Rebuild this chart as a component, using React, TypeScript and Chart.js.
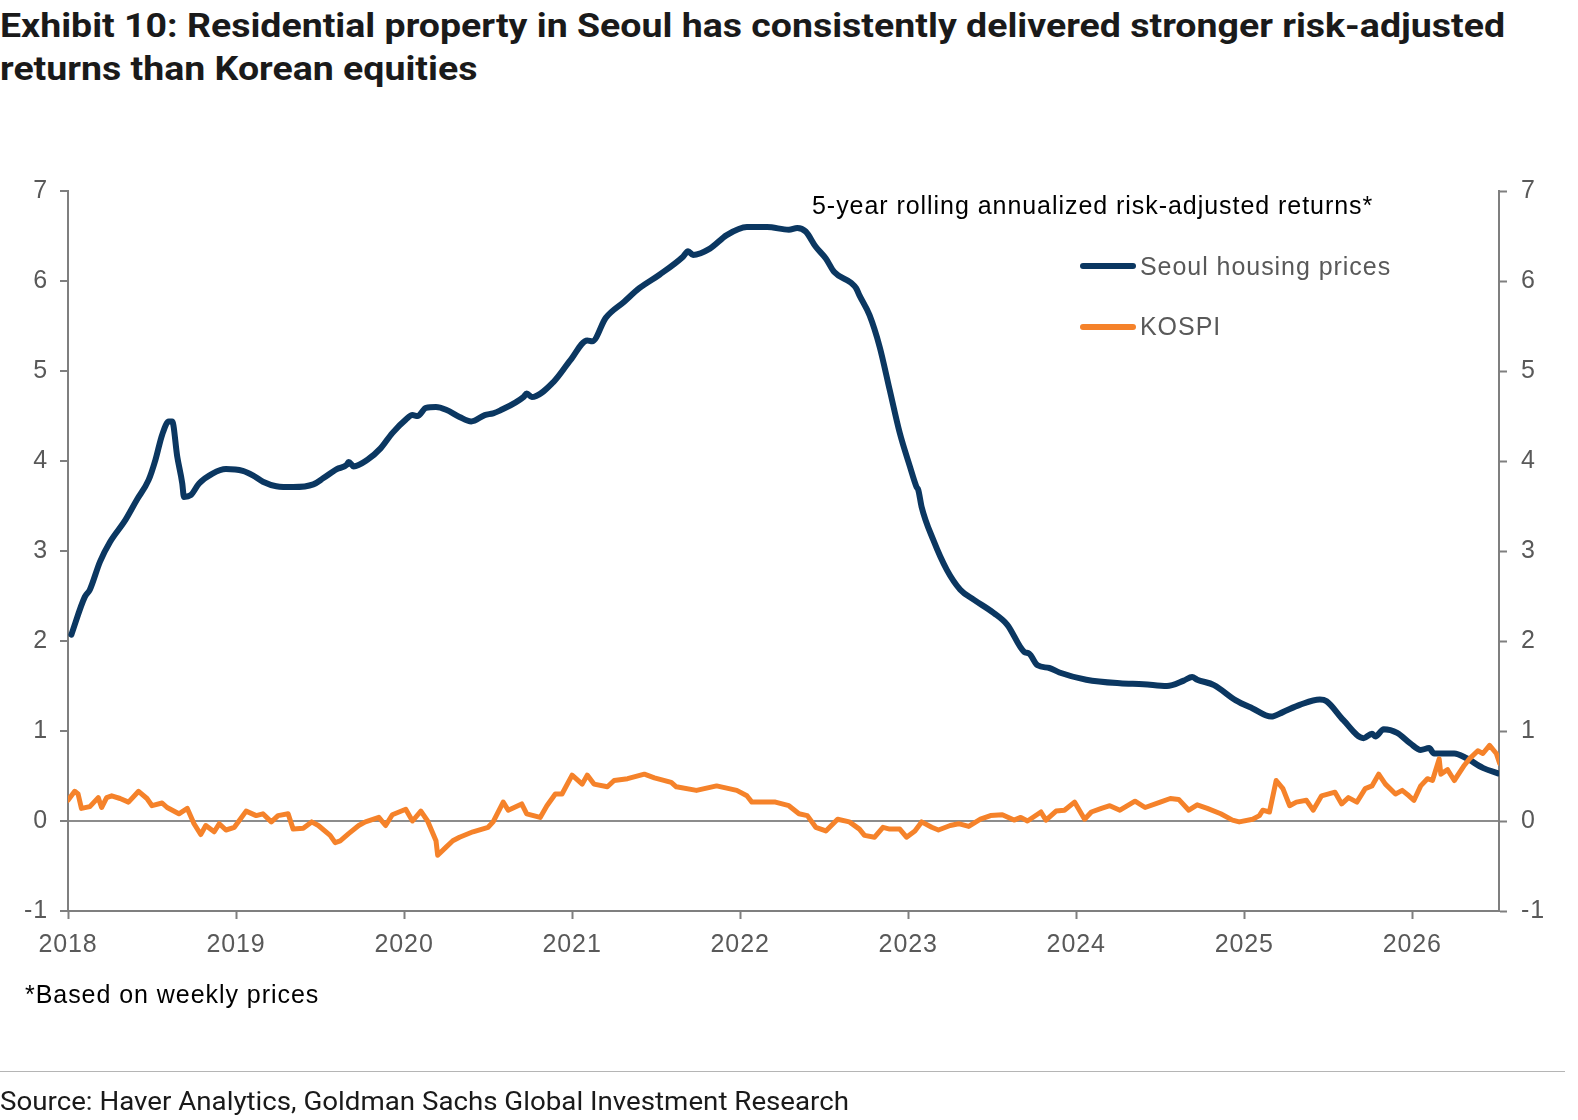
import React, { useEffect, useRef } from "react";
import { Chart, registerables } from "chart.js";

Chart.register(...registerables);

const xTickYears = [2018, 2019, 2020, 2021, 2022, 2023, 2024, 2025, 2026];
const yTickValues = [-1, 0, 1, 2, 3, 4, 5, 6, 7];

const seoulYears = [
  2018.02, 2018.1, 2018.13, 2018.19, 2018.25, 2018.34, 2018.41, 2018.48, 2018.52, 2018.56,
  2018.6, 2018.62, 2018.65, 2018.68, 2018.69, 2018.73, 2018.78, 2018.86, 2018.94, 2019.04,
  2019.1, 2019.16, 2019.24, 2019.34, 2019.46, 2019.52, 2019.6, 2019.66, 2019.67, 2019.7,
  2019.78, 2019.86, 2019.93, 2020.01, 2020.05, 2020.08, 2020.13, 2020.19, 2020.25, 2020.33,
  2020.4, 2020.48, 2020.53, 2020.57, 2020.71, 2020.73, 2020.76, 2020.89, 2020.99, 2021.09,
  2021.12, 2021.2, 2021.31, 2021.4, 2021.52, 2021.66, 2021.69, 2021.72, 2021.82, 2021.92,
  2022.04, 2022.16, 2022.29, 2022.34, 2022.39, 2022.45, 2022.51, 2022.56, 2022.66, 2022.69,
  2022.71, 2022.77, 2022.83, 2022.89, 2022.95, 2023.01, 2023.05, 2023.06, 2023.08, 2023.15,
  2023.23, 2023.31, 2023.39, 2023.51, 2023.59, 2023.69, 2023.72, 2023.77, 2023.84, 2023.9,
  2024.06, 2024.26, 2024.4, 2024.54, 2024.64, 2024.69, 2024.72, 2024.82, 2024.95, 2025.05,
  2025.16, 2025.23, 2025.33, 2025.45, 2025.49, 2025.59, 2025.71, 2025.76, 2025.78, 2025.83,
  2025.91, 2025.99, 2026.05, 2026.1, 2026.13, 2026.25, 2026.32, 2026.42, 2026.51,
];
const seoulValues = [
  2.07, 2.49, 2.57, 2.88, 3.1, 3.34, 3.57, 3.79, 4.01, 4.29,
  4.44, 4.44, 4.05, 3.75, 3.6, 3.62, 3.75, 3.86, 3.91, 3.89,
  3.84, 3.77, 3.72, 3.71, 3.74, 3.81, 3.91, 3.96, 3.99, 3.94,
  4.01, 4.14, 4.31, 4.46, 4.51, 4.5, 4.59, 4.6, 4.57, 4.49,
  4.44, 4.51, 4.53, 4.56, 4.71, 4.75, 4.71, 4.88, 5.12, 5.34,
  5.33, 5.59, 5.77, 5.92, 6.07, 6.27, 6.33, 6.29, 6.36, 6.51,
  6.6, 6.6, 6.57, 6.59, 6.55, 6.38, 6.25, 6.1, 5.98, 5.92,
  5.84, 5.62, 5.27, 4.79, 4.31, 3.94, 3.71, 3.68, 3.49, 3.12,
  2.79, 2.57, 2.46, 2.31, 2.18, 1.88, 1.86, 1.73, 1.7, 1.65,
  1.57, 1.53, 1.52, 1.5, 1.56, 1.6, 1.57, 1.51, 1.34, 1.25,
  1.16, 1.21, 1.29, 1.35, 1.33, 1.12, 0.92, 0.97, 0.94, 1.02,
  0.98, 0.86, 0.79, 0.81, 0.75, 0.75, 0.7, 0.59, 0.53,
];

const kospiYears = [
  2018.0, 2018.04, 2018.06, 2018.08, 2018.13, 2018.18, 2018.2, 2018.23, 2018.26, 2018.31,
  2018.36, 2018.42, 2018.47, 2018.5, 2018.56, 2018.59, 2018.66, 2018.71, 2018.75, 2018.79,
  2018.82, 2018.87, 2018.9, 2018.94, 2018.99, 2019.06, 2019.12, 2019.16, 2019.21, 2019.25,
  2019.31, 2019.34, 2019.4, 2019.45, 2019.49, 2019.56, 2019.59, 2019.62, 2019.67, 2019.73,
  2019.77, 2019.85, 2019.89, 2019.93, 2020.01, 2020.05, 2020.1, 2020.14, 2020.19, 2020.2,
  2020.25, 2020.29, 2020.33, 2020.41, 2020.5, 2020.53, 2020.59, 2020.62, 2020.7, 2020.73,
  2020.81, 2020.85, 2020.9, 2020.94, 2021.0, 2021.06, 2021.09, 2021.13, 2021.21, 2021.25,
  2021.33, 2021.43, 2021.49, 2021.59, 2021.62, 2021.74, 2021.86, 2021.98, 2022.04, 2022.07,
  2022.14, 2022.21, 2022.29, 2022.35, 2022.4, 2022.45, 2022.51, 2022.58, 2022.65, 2022.71,
  2022.74, 2022.8, 2022.85, 2022.89, 2022.95, 2022.99, 2023.04, 2023.08, 2023.14, 2023.18,
  2023.25, 2023.3, 2023.36, 2023.43, 2023.49, 2023.56, 2023.63, 2023.67, 2023.71, 2023.79,
  2023.82, 2023.88, 2023.93, 2023.99, 2024.05, 2024.09, 2024.15, 2024.2, 2024.26, 2024.35,
  2024.41, 2024.5, 2024.56, 2024.61, 2024.67, 2024.72, 2024.78, 2024.86, 2024.93, 2024.97,
  2025.05, 2025.09, 2025.11, 2025.15, 2025.19, 2025.23, 2025.27, 2025.31, 2025.37, 2025.41,
  2025.46, 2025.54, 2025.58, 2025.62, 2025.67, 2025.72, 2025.76, 2025.8, 2025.84, 2025.9,
  2025.94, 2025.98, 2026.01, 2026.05, 2026.09, 2026.12, 2026.16, 2026.17, 2026.21, 2026.25,
  2026.31, 2026.34, 2026.39, 2026.42, 2026.46, 2026.5, 2026.52,
];
const kospiValues = [
  0.23, 0.33, 0.3, 0.14, 0.16, 0.26, 0.15, 0.26, 0.28, 0.25,
  0.21, 0.33, 0.25, 0.17, 0.2, 0.15, 0.08, 0.14, -0.03, -0.15,
  -0.05, -0.12, -0.03, -0.1, -0.07, 0.11, 0.06, 0.08, -0.01, 0.06,
  0.08, -0.09, -0.08, -0.01, -0.05, -0.16, -0.24, -0.22, -0.14, -0.05,
  -0.01, 0.04, -0.05, 0.07, 0.13, 0.0, 0.11, 0.0, -0.22, -0.38,
  -0.29, -0.22, -0.18, -0.12, -0.07, -0.01, 0.21, 0.12, 0.19, 0.08,
  0.04, 0.17, 0.3, 0.3, 0.51, 0.41, 0.51, 0.41, 0.38, 0.45,
  0.47, 0.52, 0.48, 0.43, 0.38, 0.34, 0.39, 0.34, 0.28, 0.21,
  0.21, 0.21, 0.17, 0.08, 0.06, -0.07, -0.11, 0.02, -0.01, -0.09,
  -0.16, -0.18, -0.07, -0.09, -0.09, -0.18, -0.11, -0.01, -0.07, -0.1,
  -0.05, -0.03, -0.06, 0.02, 0.06, 0.07, 0.01, 0.04, 0.0, 0.1,
  0.01, 0.11, 0.12, 0.21, 0.02, 0.1, 0.14, 0.17, 0.12, 0.22,
  0.15, 0.21, 0.25, 0.24, 0.12, 0.18, 0.14, 0.08, 0.01, -0.01,
  0.02, 0.06, 0.12, 0.1, 0.45, 0.36, 0.17, 0.21, 0.23, 0.12,
  0.28, 0.32, 0.19, 0.26, 0.21, 0.36, 0.39, 0.52, 0.41, 0.3,
  0.34, 0.28, 0.23, 0.39, 0.47, 0.45, 0.69, 0.52, 0.57, 0.45,
  0.62, 0.69, 0.78, 0.75, 0.84, 0.75, 0.64,
];

const SEOUL_COLOR = "#0b3761";
const KOSPI_COLOR = "#f5822a";
const AXIS_COLOR = "#7f7f7f";
const TICK_TEXT = "#595959";
const ARIAL = "'Liberation Sans', Arial, Helvetica, sans-serif";
const TITLE_FONT = "Roboto, 'Noto Sans', 'Open Sans', sans-serif";

const spacingPlugin = {
  id: "letterSpacing",
  beforeUpdate(chart: any) {
    chart.ctx.letterSpacing = "0.9px";
  },
  beforeDraw(chart: any) {
    chart.ctx.letterSpacing = "0.9px";
  },
};

export default function App() {
  const canvasRef = useRef<HTMLCanvasElement | null>(null);
  const t1Ref = useRef<HTMLDivElement | null>(null);
  const t2Ref = useRef<HTMLDivElement | null>(null);
  const srcRef = useRef<HTMLDivElement | null>(null);

  useEffect(() => {
    const fitText = () => {
      const t1 = t1Ref.current;
      const t2 = t2Ref.current;
      const src = srcRef.current;
      if (t1 && t2) {
        t1.style.transform = "none";
        t2.style.transform = "none";
        const w = t1.getBoundingClientRect().width;
        const s = 1505 / w;
        t1.style.transform = `scaleX(${s})`;
        t2.style.transform = `scaleX(${s})`;
      }
      if (src) {
        src.style.transform = "none";
        const w = src.getBoundingClientRect().width;
        src.style.transform = `scaleX(${849 / w})`;
      }
    };
    fitText();
    if ((document as any).fonts && (document as any).fonts.ready) {
      (document as any).fonts.ready.then(fitText);
    }

    const canvas = canvasRef.current;
    if (!canvas) return;

    const tickFont = { family: ARIAL, size: 25 };

    const chart = new Chart(canvas, {
      type: "line",
      data: {
        datasets: [
          {
            label: "KOSPI",
            data: kospiYears.map((x, i) => ({ x, y: kospiValues[i] })),
            borderColor: KOSPI_COLOR,
            backgroundColor: KOSPI_COLOR,
            borderWidth: 5,
            pointRadius: 0,
            tension: 0,
            borderJoinStyle: "round",
            borderCapStyle: "round",
            xAxisID: "x",
            yAxisID: "y",
          },
          {
            label: "Seoul housing prices",
            data: seoulYears.map((x, i) => ({ x, y: seoulValues[i] })),
            borderColor: SEOUL_COLOR,
            backgroundColor: SEOUL_COLOR,
            borderWidth: 6,
            pointRadius: 0,
            cubicInterpolationMode: "monotone",
            borderJoinStyle: "round",
            borderCapStyle: "round",
            xAxisID: "x",
            yAxisID: "y",
          },
        ],
      },
      options: {
        responsive: false,
        devicePixelRatio: 1,
        animation: false,
        events: [],
        layout: { padding: { top: 191, bottom: 149, left: 0, right: 0 } },
        plugins: {
          legend: { display: false },
          tooltip: { enabled: false },
        },
        scales: {
          x: {
            type: "linear",
            position: "bottom",
            min: 2018,
            max: 2026.516,
            afterBuildTicks: (scale: any) => {
              scale.ticks = xTickYears.map((v) => ({ value: v }));
            },
            afterFit: (scale: any) => {
              scale.height = 60;
            },
            ticks: {
              font: tickFont,
              color: TICK_TEXT,
              padding: 11,
              maxRotation: 0,
              autoSkip: false,
              callback: (v: any) => String(v),
            },
            grid: {
              display: true,
              drawOnChartArea: false,
              drawTicks: true,
              tickLength: 8,
              tickColor: AXIS_COLOR,
              tickWidth: 2,
            },
            border: { display: true, color: AXIS_COLOR, width: 2 },
          },
          y: {
            type: "linear",
            position: "left",
            min: -1,
            max: 7,
            afterBuildTicks: (scale: any) => {
              scale.ticks = yTickValues.map((v) => ({ value: v }));
            },
            afterFit: (scale: any) => {
              scale.width = 68;
            },
            ticks: {
              font: tickFont,
              color: TICK_TEXT,
              padding: 12,
              callback: (v: any) => String(v),
            },
            grid: {
              display: true,
              drawOnChartArea: true,
              drawTicks: true,
              tickLength: 8,
              lineWidth: 2,
              color: (ctx: any) =>
                ctx.tick && ctx.tick.value === 0 ? "#8c8c8c" : "rgba(0,0,0,0)",
              tickColor: AXIS_COLOR,
              tickWidth: 2,
            },
            border: { display: true, color: AXIS_COLOR, width: 2 },
          },
          y2: {
            type: "linear",
            position: "right",
            min: -1,
            max: 7,
            afterBuildTicks: (scale: any) => {
              scale.ticks = yTickValues.map((v) => ({ value: v }));
            },
            afterFit: (scale: any) => {
              scale.width = 79;
            },
            ticks: {
              font: tickFont,
              color: TICK_TEXT,
              padding: 14,
              callback: (v: any) => String(v),
            },
            grid: {
              display: true,
              drawOnChartArea: false,
              drawTicks: true,
              tickLength: 8,
              tickColor: AXIS_COLOR,
              tickWidth: 2,
            },
            border: { display: true, color: AXIS_COLOR, width: 2 },
          },
        },
      } as any,
      plugins: [spacingPlugin as any],
    });

    return () => {
      chart.destroy();
    };
  }, []);

  const arialText: React.CSSProperties = {
    position: "absolute",
    fontFamily: ARIAL,
    fontSize: 25,
    lineHeight: "28px",
    letterSpacing: "0.95px",
    whiteSpace: "nowrap",
    margin: 0,
  };

  return (
    <div
      style={{
        position: "absolute",
        left: 0,
        top: 0,
        width: 1578,
        height: 1120,
        overflow: "hidden",
        background: "#ffffff",
      }}
    >
      <div
        ref={t1Ref}
        style={{
          position: "absolute",
          left: 0,
          top: 5,
          fontFamily: TITLE_FONT,
          fontWeight: 700,
          fontSize: 34,
          lineHeight: "41px",
          color: "#1a1a1a",
          whiteSpace: "nowrap",
          transformOrigin: "0 0",
        }}
      >
        Exhibit 10: Residential property in Seoul has consistently delivered stronger risk-adjusted
      </div>
      <div
        ref={t2Ref}
        style={{
          position: "absolute",
          left: 0,
          top: 48,
          fontFamily: TITLE_FONT,
          fontWeight: 700,
          fontSize: 34,
          lineHeight: "41px",
          color: "#1a1a1a",
          whiteSpace: "nowrap",
          transformOrigin: "0 0",
        }}
      >
        returns than Korean equities
      </div>

      <canvas
        ref={canvasRef}
        width={1578}
        height={1120}
        style={{ position: "absolute", left: 0, top: 0, width: 1578, height: 1120, display: "block" }}
      />

      <div style={{ ...arialText, left: 812, top: 191, color: "#000000" }}>
        5-year rolling annualized risk-adjusted returns*
      </div>

      <div
        style={{
          position: "absolute",
          left: 1080,
          top: 263,
          width: 56,
          height: 6,
          borderRadius: 3,
          background: SEOUL_COLOR,
        }}
      />
      <div style={{ ...arialText, left: 1140, top: 252, color: TICK_TEXT }}>Seoul housing prices</div>
      <div
        style={{
          position: "absolute",
          left: 1080,
          top: 324,
          width: 56,
          height: 6,
          borderRadius: 3,
          background: KOSPI_COLOR,
        }}
      />
      <div style={{ ...arialText, left: 1140, top: 312, color: TICK_TEXT }}>KOSPI</div>

      <div style={{ ...arialText, left: 25, top: 980, color: "#000000" }}>*Based on weekly prices</div>

      <div
        style={{
          position: "absolute",
          left: 0,
          top: 1071,
          width: 1565,
          height: 0,
          borderTop: "1.5px solid #b5b5b5",
        }}
      />
      <div
        ref={srcRef}
        style={{
          position: "absolute",
          left: 0,
          top: 1086,
          fontFamily: TITLE_FONT,
          fontWeight: 400,
          fontSize: 26,
          lineHeight: "30px",
          color: "#1a1a1a",
          whiteSpace: "nowrap",
          transformOrigin: "0 0",
        }}
      >
        Source: Haver Analytics, Goldman Sachs Global Investment Research
      </div>
    </div>
  );
}
